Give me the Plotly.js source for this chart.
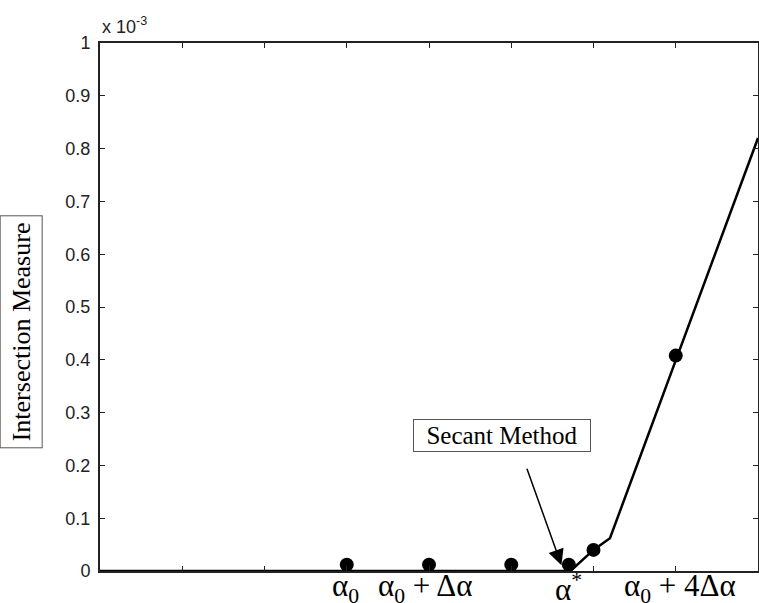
<!DOCTYPE html>
<html>
<head>
<meta charset="utf-8">
<script src="https://cdn.plot.ly/plotly-3.0.1.min.js"></script>
<style>html,body{margin:0;padding:0;background:#fff;}#chart{width:759px;height:603px;}</style>
</head>
<body>
<div id="chart"></div>
<script>
// Curve (values in units of 1e-3)
const curveX = [0, 5.72, 6.0, 6.2, 8];
const curveY = [0, 0, 0.04, 0.062, 0.82];
// Iteration points
const dotX = [3, 4, 5, 5.7, 6, 7];
const dotY = [0.012, 0.012, 0.012, 0.012, 0.04, 0.408];
// Y tick labels
const yTickVals = [0, 0.1, 0.2, 0.3, 0.4, 0.5, 0.6, 0.7, 0.8, 0.9, 1];
const yTickText = ['0', '0.1', '0.2', '0.3', '0.4', '0.5', '0.6', '0.7', '0.8', '0.9', '1'];
const xTickVals = [0, 1, 2, 3, 4, 5, 6, 7, 8];
// Bottom labels
const xLabelPos = [2.99, 3.96, 5.70, 7.05];
const xLabelText = ['α<sub>0</sub>', 'α<sub>0</sub> + Δα', 'α<sup>*</sup>', 'α<sub>0</sub> + 4Δα'];

const serif = 'Liberation Serif, Times New Roman, serif';
const sans = 'Liberation Sans, Arial, sans-serif';

const traces = [
  {x: curveX, y: curveY, mode: 'lines', type: 'scatter',
   line: {color: '#000', width: 2.5}, hoverinfo: 'skip'},
  {x: dotX, y: dotY, mode: 'markers', type: 'scatter',
   marker: {color: '#000', size: 14}, cliponaxis: false}
];

const annotations = xLabelPos.map((p, i) => ({
  x: p, y: 0, xref: 'x', yref: 'y', text: xLabelText[i], showarrow: false,
  yanchor: 'top', yshift: 5, font: {family: serif, size: 31, color: '#000'}
}));

annotations.push({
  xref: 'paper', yref: 'paper', x: 0, y: 1, xanchor: 'left', yanchor: 'bottom',
  text: 'x 10<sup>-3</sup>', showarrow: false, yshift: 4,
  font: {family: sans, size: 18, color: '#222'}
});
annotations.push({
  xref: 'paper', yref: 'paper', x: -0.152, y: 0.453, xanchor: 'left', yanchor: 'middle',
  text: 'Intersection Measure', textangle: -90, showarrow: false,
  font: {family: serif, size: 26, color: '#000'},
  bordercolor: '#555', borderwidth: 1, borderpad: 6, bgcolor: '#fff'
});
annotations.push({
  x: 4.89, y: 0.287, xref: 'x', yref: 'y', xanchor: 'center', yanchor: 'top',
  text: 'Secant Method', showarrow: false,
  font: {family: serif, size: 25, color: '#000'},
  bordercolor: '#555', borderwidth: 1, borderpad: 2, bgcolor: '#fff', width: 172
});
annotations.push({
  x: 5.61, y: 0.011, xref: 'x', yref: 'y', text: '', showarrow: true,
  ax: -35, ay: -98, arrowhead: 2, arrowsize: 2.1, arrowwidth: 1.5, arrowcolor: '#000'
});

const layout = {
  width: 759, height: 603,
  margin: {l: 100, r: 1, t: 43, b: 32},
  paper_bgcolor: '#fff', plot_bgcolor: '#fff',
  showlegend: false,
  xaxis: {range: [0, 8], tickvals: xTickVals, showticklabels: false,
    ticks: 'inside', ticklen: 5, tickcolor: '#222', showgrid: false, zeroline: false,
    showline: true, linecolor: '#222', linewidth: 2, mirror: 'ticks'},
  yaxis: {range: [0, 1], tickvals: yTickVals, ticktext: yTickText,
    ticks: 'inside', ticklen: 5, tickcolor: '#222', showgrid: false, zeroline: false,
    showline: true, linecolor: '#222', linewidth: 2, mirror: 'ticks',
    tickfont: {family: sans, size: 18, color: '#222'}, ticklabelstandoff: 4},
  annotations: annotations
};

Plotly.newPlot('chart', traces, layout, {displayModeBar: false, staticPlot: true});
</script>
</body>
</html>
